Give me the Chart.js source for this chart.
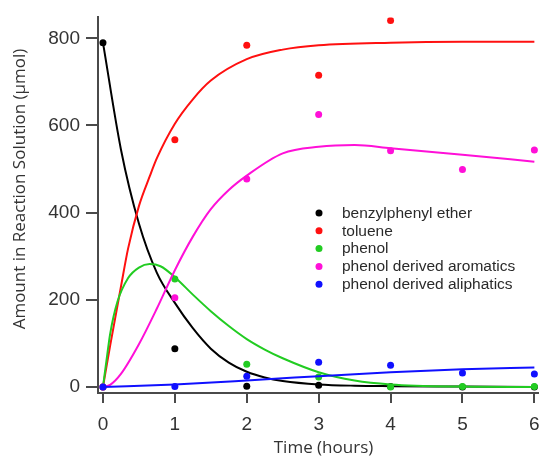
<!DOCTYPE html>
<html>
<head>
<meta charset="utf-8">
<script src="https://cdn.jsdelivr.net/npm/chart.js@4/dist/chart.umd.min.js"></script>
<style>
html, body { margin: 0; padding: 0; background: #fff; overflow: hidden; }
canvas { display: block; }
</style>
</head>
<body>
<canvas id="grafico" width="580" height="460"></canvas>
<script>
// Ticks
const xTicks = [0, 1, 2, 3, 4, 5, 6];
const yTicks = [0, 200, 400, 600, 800];

// Series
const nombres = ['benzylphenyl ether', 'toluene', 'phenol', 'phenol derived aromatics', 'phenol derived aliphatics'];
const colores = ['#000000', '#ff1010', '#22cc22', '#ff10d8', '#1010ff'];

// Measured points (hours)
const tMedido = [0, 1, 2, 3, 4, 5, 6];
const eterPts = [790, 88, 2, 4, 1, 0, 0];
const toluenoPts = [0, 567, 784, 715, 841, null, null];
const fenolPts = [0, 248, 52, 23, 0, 1, 1];
const aromaticosPts = [0, 205, 477, 625, 542, 499, 544];
const alifaticosPts = [0, 1, 25, 57, 50, 32, 30];

// Fitted curves
const tEter = [0, 0.25, 0.5, 0.75, 1, 1.25, 1.5, 1.75, 2, 2.25, 2.5, 3, 3.5, 4, 5, 6];
const eterAjuste = [790, 545, 375, 262, 193, 135, 88, 56, 35, 22, 14, 6, 3, 2, 1, 0];
const tTolueno = [0, 0.1, 0.25, 0.35, 0.5, 0.65, 0.75, 1, 1.25, 1.5, 2, 2.5, 3, 4, 5, 6];
const toluenoAjuste = [0, 95, 230, 318, 415, 483, 525, 604, 660, 703, 752, 774, 784, 790, 792, 792];
const tFenol = [0, 0.05, 0.1, 0.2, 0.35, 0.5, 0.65, 0.8, 1, 1.25, 1.5, 1.75, 2, 2.25, 2.5, 3, 3.5, 4, 5, 6];
const fenolAjuste = [0, 62, 122, 195, 250, 274, 282, 277, 252, 212, 174, 140, 110, 86, 66, 34, 15, 6, 1, 0];
const tAromaticos = [0, 0.1, 0.25, 0.5, 0.75, 1, 1.25, 1.5, 1.75, 2, 2.5, 3, 3.5, 4, 5, 6];
const aromaticosAjuste = [0, 5, 30, 98, 180, 268, 345, 408, 452, 485, 536, 551, 555, 548, 533, 517];
const tAlifaticos = [0, 1, 2, 2.5, 3, 4, 5, 6];
const alifaticosAjuste = [0, 6, 15, 20, 25, 34, 41, 45];

const puntos = [eterPts, toluenoPts, fenolPts, aromaticosPts, alifaticosPts];
const curvas = [
    [tEter, eterAjuste],
    [tTolueno, toluenoAjuste],
    [tFenol, fenolAjuste],
    [tAromaticos, aromaticosAjuste],
    [tAlifaticos, alifaticosAjuste],
];

function pares(xs, ys) {
    return xs.map((x, i) => ({ x: x, y: ys[i] })).filter(p => p.y !== null);
}

const datasets = [];
// blue first so it ends up on top
for (let i = nombres.length - 1; i >= 0; i--) {
    datasets.push({
        type: 'line',
        label: nombres[i] + ' fit',
        data: pares(curvas[i][0], curvas[i][1]),
        borderColor: colores[i],
        borderWidth: 2,
        pointRadius: 0,
        cubicInterpolationMode: 'monotone',
        fill: false,
    });
    datasets.push({
        type: 'scatter',
        label: nombres[i],
        data: pares(tMedido, puntos[i]),
        backgroundColor: colores[i],
        borderColor: colores[i],
        pointRadius: 3.5,
        borderWidth: 0,
    });
}

const ejeColor = '#4a4a4a';

// Legend inside the plot + axis titles
const extras = {
    id: 'extras',
    afterDraw(chart) {
        const ctx = chart.ctx;
        ctx.save();
        ctx.font = '15.5px "Liberation Sans", Arial, sans-serif';
        ctx.textBaseline = 'middle';
        ctx.textAlign = 'left';
        nombres.forEach((n, i) => {
            const y = 213 + i * 17.8;
            ctx.fillStyle = colores[i];
            ctx.beginPath();
            ctx.arc(319, y, 3.5, 0, Math.PI * 2);
            ctx.fill();
            ctx.fillStyle = '#2a2a2a';
            ctx.fillText(n, 342, y + 0.5);
        });
        ctx.fillStyle = '#333333';
        ctx.font = '17px "Open Sans", sans-serif';
        ctx.textAlign = 'center';
        ctx.fillText('Time (hours)', 323.5, 448);
        ctx.translate(20, 189);
        ctx.rotate(-Math.PI / 2);
        ctx.fillText('Amount in Reaction Solution (\u00b5mol)', 0, 0);
        ctx.restore();
    }
};

new Chart(document.getElementById('grafico'), {
    data: { datasets: datasets },
    options: {
        responsive: false,
        animation: false,
        layout: { padding: { top: 15, left: 0, right: 0, bottom: 0 } },
        plugins: { legend: { display: false }, tooltip: { enabled: false } },
        scales: {
            x: {
                type: 'linear',
                min: -0.069,
                max: 6.579,
                afterBuildTicks: s => { s.ticks = xTicks.map(v => ({ value: v })); },
                afterFit: s => { s.height = 67; },
                ticks: {
                    color: '#333333',
                    font: { family: '"Liberation Sans", Arial, sans-serif', size: 19 },
                    padding: 10,
                    maxRotation: 0,
                },
                grid: { drawOnChartArea: false, drawTicks: true, tickLength: 10, color: ejeColor, lineWidth: 2 },
                border: { display: true, color: ejeColor, width: 2 },
            },
            y: {
                type: 'linear',
                min: -13.7,
                max: 847.9,
                afterBuildTicks: s => { s.ticks = yTicks.map(v => ({ value: v })); },
                afterFit: s => { s.width = 98; },
                ticks: {
                    color: '#333333',
                    font: { family: '"Liberation Sans", Arial, sans-serif', size: 19 },
                    padding: 6,
                },
                grid: { drawOnChartArea: false, drawTicks: true, tickLength: 12, color: ejeColor, lineWidth: 2 },
                border: { display: true, color: ejeColor, width: 2 },
            },
        },
    },
    plugins: [extras],
});
</script>
</body>
</html>
